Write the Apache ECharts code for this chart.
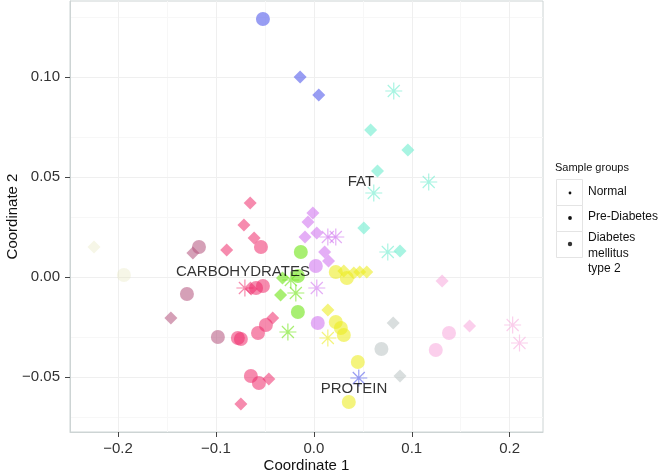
<!DOCTYPE html>
<html>
<head>
<meta charset="utf-8">
<script src="https://cdn.jsdelivr.net/npm/echarts@6/dist/echarts.min.js"></script>
<style>html,body{margin:0;padding:0;background:#fff}#c{width:660px;height:475px}</style>
</head>
<body>
<div id="c"></div>
<script>
// ---- data (x = Coordinate 1, y = Coordinate 2, cluster) ----
const normalPts = [
  [-0.014, 0.100, 'blue'], [0.005, 0.091, 'blue'],
  [0.058, 0.0735, 'teal'], [0.096, 0.0635, 'teal'], [0.065, 0.053, 'teal'], [0.051, 0.0245, 'teal'], [0.088, 0.013, 'teal'],
  [0.131, -0.002, 'lpink'], [0.159, -0.0245, 'lpink'],
  [0.081, -0.023, 'grey'], [0.088, -0.0495, 'grey'],
  [0.0306, 0.003, 'yellow'], [0.0408, 0.002, 'yellow'], [0.0469, 0.0025, 'yellow'], [0.054, 0.0025, 'yellow'], [0.0143, -0.0165, 'yellow'],
  [-0.032, -0.0005, 'green'], [-0.034, -0.009, 'green'],
  [-0.001, 0.032, 'purple'], [-0.006, 0.0275, 'purple'], [-0.009, 0.020, 'purple'], [0.003, 0.022, 'purple'], [0.011, 0.0125, 'purple'], [0.015, 0.008, 'purple'],
  [-0.065, 0.037, 'pink'], [-0.0714, 0.026, 'pink'], [-0.061, 0.0195, 'pink'], [-0.089, 0.0135, 'pink'], [-0.064, -0.006, 'pink'],
  [-0.042, -0.0205, 'pink'], [-0.046, -0.051, 'pink'], [-0.0745, -0.0635, 'pink'],
  [-0.1235, 0.012, 'mauve'], [-0.146, -0.0205, 'mauve'],
  [-0.2245, 0.015, 'cream']
];
const preDiabetesPts = [
  [-0.052, 0.129, 'blue'],
  [0.138, -0.028, 'lpink'], [0.1245, -0.0365, 'lpink'],
  [0.069, -0.036, 'grey'],
  [0.0224, 0.0025, 'yellow'], [0.0337, -0.0005, 'yellow'], [0.0224, -0.0225, 'yellow'], [0.0276, -0.0255, 'yellow'],
  [0.0306, -0.029, 'yellow'], [0.0449, -0.0425, 'yellow'], [0.0357, -0.0625, 'yellow'],
  [-0.0133, 0.0125, 'green'], [-0.0163, 0.0005, 'green'], [-0.0163, -0.0175, 'green'],
  [0.002, 0.0055, 'purple'], [0.004, -0.023, 'purple'],
  [-0.054, 0.015, 'pink'], [-0.059, -0.0055, 'pink'], [-0.052, -0.0045, 'pink'], [-0.049, -0.024, 'pink'], [-0.057, -0.028, 'pink'],
  [-0.0745, -0.031, 'pink'], [-0.0776, -0.0305, 'pink'], [-0.0643, -0.0495, 'pink'], [-0.0561, -0.053, 'pink'],
  [-0.1173, 0.015, 'mauve'], [-0.1296, -0.0085, 'mauve'], [-0.098, -0.030, 'mauve'],
  [-0.194, 0.001, 'cream']
];
const diabetesPts = [
  [0.0816, 0.093, 'teal'], [0.0612, 0.042, 'teal'], [0.1173, 0.0475, 'teal'], [0.0755, 0.0125, 'teal'],
  [0.203, -0.024, 'lpink'], [0.210, -0.033, 'lpink'],
  [0.0143, 0.020, 'purple'], [0.0224, 0.020, 'purple'], [0.003, -0.0055, 'purple'],
  [-0.0704, -0.0055, 'pink'],
  [-0.0184, -0.008, 'green'], [-0.0265, -0.0275, 'green'], [-0.0235, -0.0015, 'green'],
  [0.0143, -0.0305, 'yellow'],
  [0.0459, -0.0505, 'blue']
];
const nutrientLabels = [[0.048, 0.0475, 'FAT'], [-0.0724, 0.0025, 'CARBOHYDRATES'], [0.041, -0.056, 'PROTEIN']];
const groupNames = ['Normal', 'Pre-Diabetes', 'Diabetes\nmellitus\ntype 2'];
const xTicks = [-0.2, -0.1, 0.0, 0.1, 0.2];
const xTickLabels = ['\u22120.2', '\u22120.1', '0.0', '0.1', '0.2'];
const yTicks = [-0.05, 0.0, 0.05, 0.10];
const yTickLabels = ['\u22120.05', '0.00', '0.05', '0.10'];
const xMinor = [-0.15, -0.05, 0.05, 0.15];
const yMinor = [-0.075, -0.025, 0.025, 0.075, 0.125];

// ---- styles ----
const palette = {
  blue: 'rgba(104,112,238,0.85)',
  teal: 'rgba(110,236,206,0.75)',
  lpink: 'rgba(248,170,222,0.7)',
  grey: 'rgba(196,204,204,0.8)',
  yellow: 'rgba(236,236,30,0.72)',
  green: 'rgba(110,228,20,0.75)',
  purple: 'rgba(204,100,238,0.65)',
  pink: 'rgba(238,40,105,0.68)',
  mauve: 'rgba(180,86,126,0.7)',
  cream: 'rgba(228,228,180,0.4)'
};
const asterisk = 'path://M-10,-0.7L10,-0.7L10,0.7L-10,0.7Z M-0.7,-10L0.7,-10L0.7,10L-0.7,10Z ' +
  'M-6.575,-7.565L7.565,6.575L6.575,7.565L-7.565,-6.575Z M-7.565,6.575L6.575,-7.565L7.565,-6.575L-6.575,7.565Z';
const FONT = 'Liberation Sans, Arial, Helvetica, sans-serif';

const chart = echarts.init(document.getElementById('c'), null, {renderer: 'canvas'});
const colorFn = p => palette[p.data[2]];
function gridLines(vals, key, color) {
  return vals.map(v => ({[key]: v, lineStyle: {color: color, width: 1, type: 'solid'}}));
}
const option = {
  animation: false,
  backgroundColor: '#ffffff',
  grid: {left: 70, right: 117, top: 1, bottom: 43, containLabel: false, outerBoundsMode: 'none',
    show: true, borderColor: '#cdd4d4', borderWidth: 1, backgroundColor: '#fff'},
  xAxis: {
    type: 'value', min: -0.249, max: 0.234,
    splitLine: {show: false},
    axisLine: {show: true, onZero: false, lineStyle: {color: '#cdd4d4', width: 1}},
    axisTick: {show: true, inside: false, length: 5, lineStyle: {color: '#444', width: 1}, customValues: xTicks},
    axisLabel: {customValues: xTicks, margin: 9, fontSize: 15, fontFamily: FONT, color: '#333',
      formatter: v => { const i = xTicks.findIndex(t => Math.abs(t - v) < 1e-9); return i >= 0 ? xTickLabels[i] : ''; }},
    name: 'Coordinate 1', nameLocation: 'middle', nameGap: 26, nameMoveOverlap: false,
    nameTextStyle: {fontSize: 15, fontFamily: FONT, color: '#111'}
  },
  yAxis: {
    type: 'value', min: -0.0775, max: 0.138,
    splitLine: {show: false},
    axisLine: {show: true, onZero: false, lineStyle: {color: '#cdd4d4', width: 1}},
    axisTick: {show: true, inside: false, length: 5, lineStyle: {color: '#444', width: 1}, customValues: yTicks},
    axisLabel: {customValues: yTicks, margin: 10, fontSize: 15, fontFamily: FONT, color: '#333',
      formatter: v => { const i = yTicks.findIndex(t => Math.abs(t - v) < 1e-9); return i >= 0 ? yTickLabels[i] : ''; }},
    name: 'Coordinate 2', nameLocation: 'middle', nameGap: 50, nameRotate: 90, nameMoveOverlap: false,
    nameTextStyle: {fontSize: 15, fontFamily: FONT, color: '#111'}
  },
  series: [
    {
      type: 'scatter', name: 'grid', data: [], silent: true, z: 0, zlevel: 0,
      markLine: {silent: true, symbol: ['none', 'none'], label: {show: false}, animation: false, z: 0,
        data: [].concat(
          gridLines(xMinor, 'xAxis', '#f7f7f7'), gridLines(yMinor, 'yAxis', '#f7f7f7'),
          gridLines(xTicks, 'xAxis', '#efefef'), gridLines(yTicks, 'yAxis', '#efefef'))}
    },
    {type: 'scatter', name: groupNames[0], data: normalPts, symbol: 'diamond', symbolSize: 13, z: 5, itemStyle: {color: colorFn}},
    {type: 'scatter', name: groupNames[1], data: preDiabetesPts, symbol: 'circle', symbolSize: 14, z: 5, itemStyle: {color: colorFn}},
    {type: 'scatter', name: groupNames[2], data: diabetesPts, symbol: asterisk, symbolSize: 17, z: 5, itemStyle: {color: colorFn}},
    {
      type: 'scatter', name: 'labels', data: nutrientLabels, symbolSize: 0, silent: true, z: 10,
      label: {show: true, position: 'inside', formatter: p => p.data[2], fontSize: 15, fontFamily: FONT, color: '#000'}
    }
  ],
  graphic: [
    {type: 'text', left: 555, top: 162, style: {text: 'Sample groups', fontSize: 11, fontFamily: FONT, fill: '#111'}},
    {type: 'rect', shape: {x: 556.5, y: 179.5, width: 26, height: 26}, style: {fill: '#fff', stroke: '#e4e4e4', lineWidth: 1}},
    {type: 'rect', shape: {x: 556.5, y: 205.5, width: 26, height: 26}, style: {fill: '#fff', stroke: '#e4e4e4', lineWidth: 1}},
    {type: 'rect', shape: {x: 556.5, y: 231.5, width: 26, height: 26}, style: {fill: '#fff', stroke: '#e4e4e4', lineWidth: 1}},
    {type: 'circle', shape: {cx: 570, cy: 193, r: 1.4}, style: {fill: '#111'}},
    {type: 'circle', shape: {cx: 570, cy: 218, r: 1.9}, style: {fill: '#111'}},
    {type: 'circle', shape: {cx: 570, cy: 244, r: 2.2}, style: {fill: '#333'}},
    {type: 'text', left: 588, top: 186, style: {text: groupNames[0], fontSize: 12, fontFamily: FONT, fill: '#111'}},
    {type: 'text', left: 588, top: 211, style: {text: groupNames[1], fontSize: 12, fontFamily: FONT, fill: '#111'}},
    {type: 'text', left: 588, top: 230, style: {text: groupNames[2], fontSize: 12, lineHeight: 15.5, fontFamily: FONT, fill: '#111'}}
  ]
};
chart.setOption(option);
</script>
</body>
</html>
